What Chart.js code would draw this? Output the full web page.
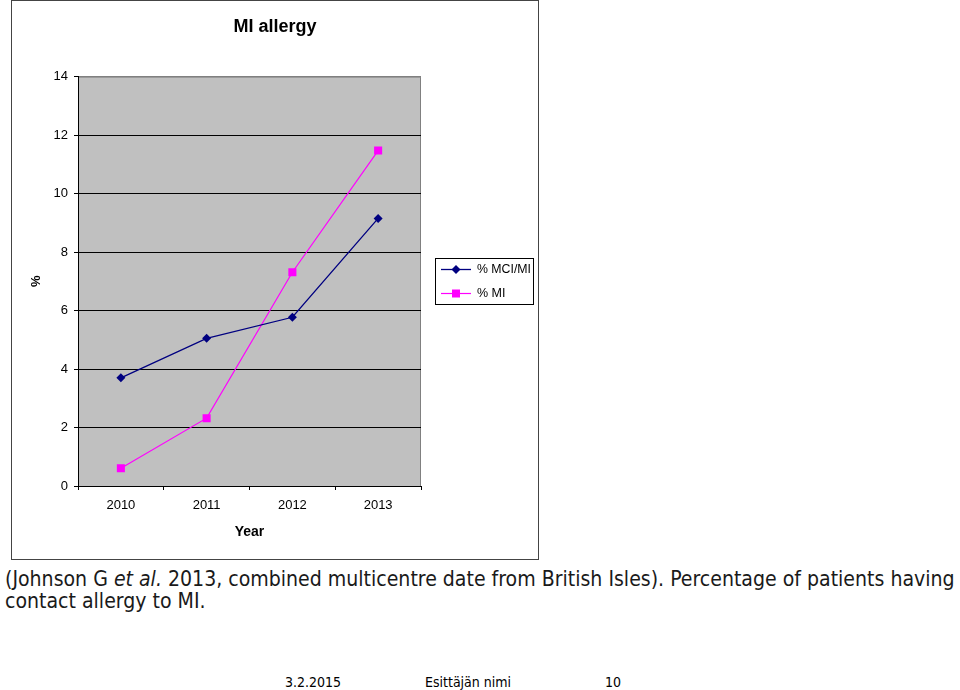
<!DOCTYPE html>
<html>
<head>
<meta charset="utf-8">
<title>MI allergy</title>
<script src="https://cdn.jsdelivr.net/npm/chart.js@4.4.1/dist/chart.umd.min.js"></script>
<style>
    body { margin: 0; background: #fff; width: 960px; height: 690px; position: relative; overflow: hidden; }
    #frame { position: absolute; left: 11px; top: 0; width: 526px; height: 558px; border: 1px solid #444; }
    #frame canvas { display: block; }
    .caption { position: absolute; left: 5px; white-space: nowrap; color: #1a1a1a;
        font-family: "DejaVu Sans Condensed", "DejaVu Sans", sans-serif; font-size: 17px; line-height: 22px; }
    .footer { position: absolute; top: 674px; white-space: nowrap; color: #000;
        font-family: "DejaVu Sans Condensed", "DejaVu Sans", sans-serif; font-size: 14px; line-height: 16px; }
</style>
</head>
<body>
<div id="frame"><canvas id="allergyChart" width="526" height="558"></canvas></div>
<div class="caption" id="cap1" style="top: 568px;">(Johnson G <i>et al.</i> 2013, combined multicentre date from British Isles). Percentage of patients having</div>
<div class="caption" id="cap2" style="top: 590px;">contact allergy to MI.</div>
<div class="footer" style="left: 285px;">3.2.2015</div>
<div class="footer" style="left: 425px;">Esittäjän nimi</div>
<div class="footer" style="left: 605px;">10</div>

<script>
// Data
const years = ['2010', '2011', '2012', '2013'];
const mciMi = [3.7, 5.05, 5.77, 9.15];
const mi = [0.61, 2.32, 7.31, 11.47];
const seriesNames = ['% MCI/MI', '% MI'];
const yTicks = [0, 2, 4, 6, 8, 10, 12, 14];

const fontFamily = '"Liberation Sans", Arial, sans-serif';

// Grey plot area with a thin grey frame on top and right
const plotBackground = {
    id: 'plotBackground',
    beforeDraw(chart) {
        const { ctx, chartArea: a } = chart;
        ctx.save();
        ctx.fillStyle = '#c0c0c0';
        ctx.fillRect(a.left, a.top, a.right - a.left, a.bottom - a.top);
        ctx.strokeStyle = '#808080';
        ctx.lineWidth = 1;
        ctx.beginPath();
        ctx.moveTo(a.left, a.top + 0.5);
        ctx.lineTo(a.right - 0.5, a.top + 0.5);
        ctx.lineTo(a.right - 0.5, a.bottom);
        ctx.stroke();
        ctx.restore();
    }
};

// Boxed legend to the right of the plot, like the Excel original
const boxLegend = {
    id: 'boxLegend',
    afterDraw(chart) {
        const { ctx, chartArea: a } = chart;
        const x0 = a.right + 14, y0 = 257, w = 99, h = 47;
        ctx.save();
        ctx.fillStyle = '#fff';
        ctx.fillRect(x0, y0, w, h);
        ctx.strokeStyle = '#000';
        ctx.lineWidth = 1;
        ctx.strokeRect(x0 + 0.5, y0 + 0.5, w - 1, h - 1);
        chart.data.datasets.forEach((ds, i) => {
            const y = y0 + 11.5 + i * 24;
            const lx = x0 + 6, mx = x0 + 21;
            ctx.strokeStyle = ds.borderColor;
            ctx.lineWidth = ds.borderWidth;
            ctx.beginPath();
            ctx.moveTo(lx, y);
            ctx.lineTo(lx + 30, y);
            ctx.stroke();
            ctx.fillStyle = ds.backgroundColor;
            ctx.beginPath();
            if (ds.pointStyle === 'rectRot') {
                ctx.moveTo(mx, y - 4.5);
                ctx.lineTo(mx + 4.5, y);
                ctx.lineTo(mx, y + 4.5);
                ctx.lineTo(mx - 4.5, y);
                ctx.closePath();
            } else {
                ctx.rect(mx - 4, y - 4, 8, 8);
            }
            ctx.fill();
            ctx.fillStyle = '#000';
            ctx.font = '12.5px ' + fontFamily;
            ctx.textBaseline = 'middle';
            ctx.fillText(ds.label, x0 + 42, y + 0.5, w - 45);
        });
        ctx.restore();
    }
};

const ctx = document.getElementById('allergyChart').getContext('2d');
const chart = new Chart(ctx, {
    type: 'line',
    data: {
        labels: years,
        datasets: [{
            label: seriesNames[0],
            data: mciMi,
            borderColor: '#000080',
            backgroundColor: '#000080',
            borderWidth: 1.3,
            pointStyle: 'rectRot',
            pointRadius: 4.5,
            pointBorderWidth: 0,
            tension: 0
        }, {
            label: seriesNames[1],
            data: mi,
            borderColor: '#ff00ff',
            backgroundColor: '#ff00ff',
            borderWidth: 1.2,
            pointStyle: 'rect',
            pointRadius: 5.7,
            pointBorderWidth: 0,
            tension: 0
        }]
    },
    options: {
        responsive: false,
        animation: false,
        layout: {
            padding: { left: 0, right: 0, top: 0, bottom: 13 }
        },
        plugins: {
            legend: { display: false },
            tooltip: { enabled: false },
            title: {
                display: true,
                text: 'MI allergy',
                color: '#000',
                font: { family: fontFamily, size: 18, weight: 'bold' },
                padding: { top: 15, bottom: 39 }
            }
        },
        scales: {
            x: {
                offset: true,
                afterFit: (scale) => { scale.height = 60; },
                grid: {
                    display: true,
                    drawOnChartArea: false,
                    offset: true,
                    tickLength: 4,
                    color: '#000'
                },
                border: { color: '#000', width: 1 },
                ticks: {
                    color: '#000',
                    padding: 8,
                    font: { family: fontFamily, size: 13 }
                },
                title: {
                    display: true,
                    text: 'Year',
                    color: '#000',
                    font: { family: fontFamily, size: 14, weight: 'bold' },
                    padding: { top: 4, bottom: 5 }
                }
            },
            y: {
                min: 0,
                max: 14,
                afterFit: (scale) => { scale.width = 66; },
                afterBuildTicks: (scale) => {
                    scale.ticks = yTicks.map(v => ({ value: v }));
                },
                grid: {
                    color: (c) => (c.tick && c.tick.value === 14 ? '#808080' : '#000'),
                    tickColor: '#000',
                    tickLength: 4,
                    lineWidth: 1
                },
                border: { color: '#000', width: 1 },
                ticks: {
                    color: '#000',
                    padding: 6,
                    font: { family: fontFamily, size: 13 }
                },
                title: {
                    display: true,
                    text: '%',
                    color: '#000',
                    font: { family: fontFamily, size: 13, weight: 'bold' },
                    padding: { top: 17, bottom: 0 }
                }
            },
            // empty right-hand axis that only reserves room for the legend box
            legendSpace: {
                position: 'right',
                display: true,
                afterFit: (scale) => { scale.width = 117; },
                grid: { display: false },
                border: { display: false },
                ticks: { display: false }
            }
        }
    },
    plugins: [plotBackground, boxLegend]
});

// Stretch the caption so the first line spans the slide width like the original
const cap1 = document.getElementById('cap1');
const cap2 = document.getElementById('cap2');
const w = cap1.getBoundingClientRect().width;
const size = 17 * 950 / w;
cap1.style.fontSize = size + 'px';
cap2.style.fontSize = size + 'px';
</script>
</body>
</html>
